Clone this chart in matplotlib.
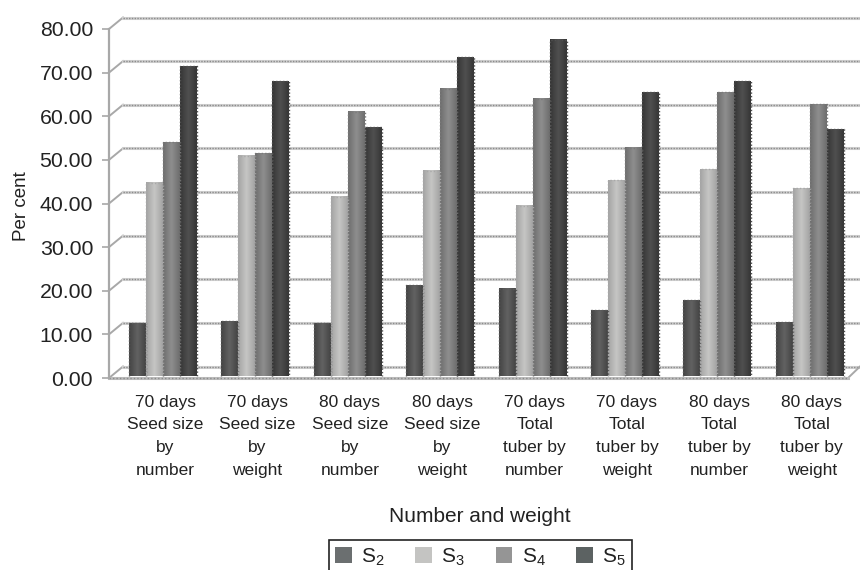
import numpy as np
import matplotlib
matplotlib.use('Agg')
import matplotlib.pyplot as plt
from matplotlib.colors import LinearSegmentedColormap
from matplotlib.patches import Patch

plt.rcParams['font.family'] = ['Liberation Sans', 'DejaVu Sans']
plt.rcParams['mathtext.default'] = 'regular'

categories = ['70 days\nSeed size\nby\nnumber', '70 days\nSeed size\nby\nweight',
              '80 days\nSeed size\nby\nnumber', '80 days\nSeed size\nby\nweight',
              '70 days\nTotal\ntuber by\nnumber', '70 days\nTotal\ntuber by\nweight',
              '80 days\nTotal\ntuber by\nnumber', '80 days\nTotal\ntuber by\nweight']
s2 = [12.5, 13.0, 12.5, 21.3, 20.5, 15.5, 17.8, 12.8]
s3 = [44.8, 51.0, 41.5, 47.5, 39.5, 45.3, 47.8, 43.5]
s4 = [54.0, 51.5, 61.0, 66.3, 64.0, 52.8, 65.5, 62.8]
s5 = [71.5, 68.0, 57.5, 73.5, 77.5, 65.5, 68.0, 57.0]
series = [s2, s3, s4, s5]
names = ['S$_2$', 'S$_3$', 'S$_4$', 'S$_5$']
yticks = [0, 10, 20, 30, 40, 50, 60, 70, 80]

# bar shading: dark edge, lighter middle, dark edge
shades = [('#444444', '#626262'), ('#a4a4a4', '#c6c6c4'), ('#6e6e6e', '#8e8e8e'), ('#363636', '#505050')]
outlines = ['#5a5a5a', '#a8a8a8', '#7a7a7a', '#505050']
legend_colors = ['#6b6f70', '#c4c4c2', '#959595', '#5c6262']

fig = plt.figure(figsize=(8.6, 5.7), dpi=100)
ax = fig.add_axes([109 / 860, (570 - 378) / 570, 751 / 860, 349 / 570])
px_x = 92.4  # pixels per group
px_y = 349 / 80
ax.set_xlim(-56 / px_x, (860 - 165) / px_x)
ax.set_ylim(0, 80)
left = ax.get_xlim()[0]
right = ax.get_xlim()[1]
dx = 14 / px_x  # depth of the fake 3d wall
dy = 11.5 / px_y

# back wall grid lines with little slants to the axis
for v in yticks:
    ax.plot([left, left + dx], [v, v + dy], color='#a8a8a8', lw=1.4, clip_on=False, zorder=1)
    ax.plot([left + dx, right], [v + dy, v + dy], color='#d0d0d0', lw=2.2, clip_on=False, zorder=1)
    ax.plot([left + dx, right], [v + dy, v + dy], color='#8c8c8c', lw=1.0, ls=(0, (1, 1)), clip_on=False, zorder=1)

# floor
floor_end = right - 12 / px_x
ax.plot([floor_end, right], [0, dy], color='#a8a8a8', lw=1.4, clip_on=False, zorder=1)
ax.plot([left, floor_end], [0, 0], color='#bcbcbc', lw=2.2, clip_on=False, zorder=2)
ax.plot([left, floor_end], [0, 0], color='#8c8c8c', lw=1.0, ls=(0, (1, 1.5)), clip_on=False, zorder=2)

bar_w = 17 / px_x
base = 0.46
for k, vals in enumerate(series):
    cmap = LinearSegmentedColormap.from_list('b', [shades[k][0], shades[k][1], shades[k][0]])
    grad = np.linspace(0, 1, 32).reshape(1, -1)
    for i, v in enumerate(vals):
        x0 = i + (k - 2) * bar_w - 2 / px_x
        ax.imshow(grad, cmap=cmap, aspect='auto', extent=[x0, x0 + bar_w, base, v], zorder=3, interpolation='bilinear')
        ax.plot([x0, x0, x0 + bar_w, x0 + bar_w], [base, v, v, base], color=outlines[k], lw=1.0,
                ls=(0, (1, 1.5)), zorder=4)
ax.set_xlim(-56 / px_x, (860 - 165) / px_x)
ax.set_ylim(0, 80)

for name in ['top', 'right', 'bottom']:
    ax.spines[name].set_visible(False)
ax.spines['left'].set_color('#a8a8a8')
ax.spines['left'].set_linewidth(1.6)
ax.patch.set_alpha(0)

ax.set_yticks(yticks)
ax.set_yticklabels(['%.2f' % v for v in yticks], fontsize=15.3, color='#222222')
ax.tick_params(axis='y', color='#a8a8a8', length=5, width=1.2, pad=6.5)
ax.set_xticks(range(8))
ax.set_xticklabels(categories, fontsize=12.5, color='#222222', linespacing=1.64)
ax.tick_params(axis='x', length=0, pad=12)

fig.text(21 / 860, 1 - 206 / 570, 'Per cent', rotation=90, fontsize=13.5, color='#222222', ha='center', va='center')
fig.text(480 / 860, 1 - 517 / 570, 'Number and weight', fontsize=15, color='#222222', ha='center', va='center')

handles = [Patch(facecolor=c, edgecolor='none') for c in legend_colors]
leg = fig.legend(handles, names, ncol=4, loc='upper center', bbox_to_anchor=(480.5 / 860, 1 - 540 / 570),
                 fontsize=15, frameon=True, fancybox=False, edgecolor='#222222', framealpha=1,
                 handlelength=0.8, handleheight=0.8, handletextpad=0.45, columnspacing=1.47,
                 borderpad=0.3, borderaxespad=0, labelcolor='#222222')
leg.get_frame().set_linewidth(1.2)

fig.savefig('out.png', dpi=100)
